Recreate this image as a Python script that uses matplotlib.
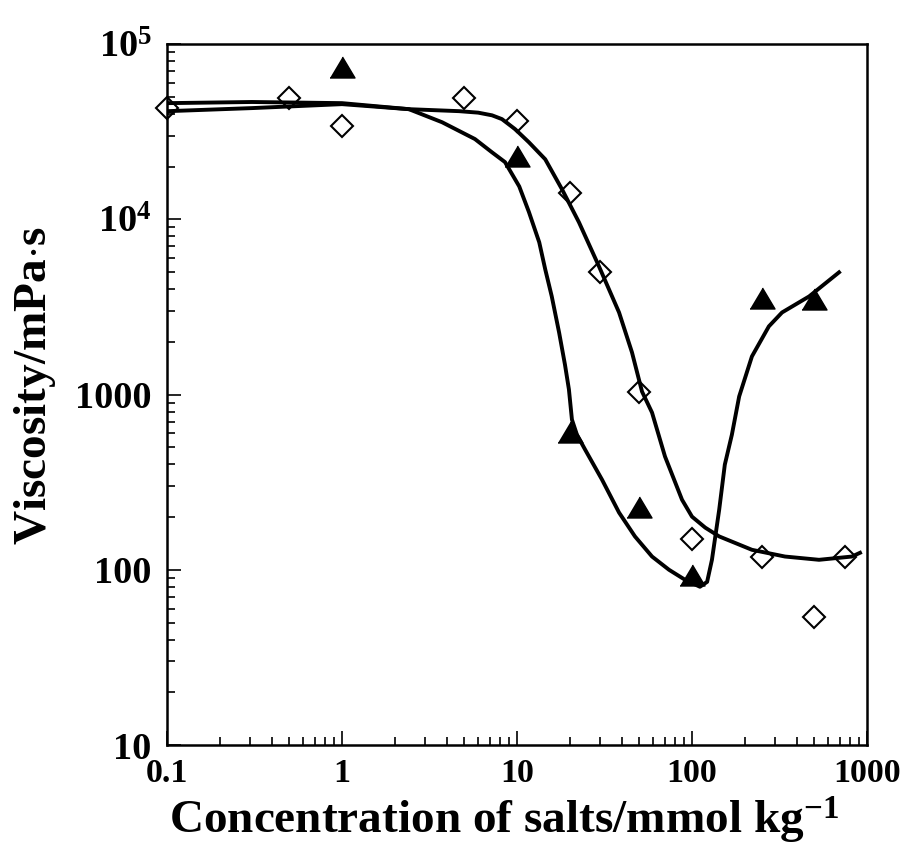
import matplotlib
matplotlib.use("Agg")
import matplotlib.pyplot as plt
from matplotlib.ticker import FixedLocator, FixedFormatter, LogLocator, NullFormatter

plt.rcParams['font.family'] = 'Liberation Serif'
plt.rcParams['font.weight'] = 'bold'
plt.rcParams['mathtext.fontset'] = 'custom'
plt.rcParams['mathtext.rm'] = 'Liberation Serif:bold'
plt.rcParams['mathtext.bf'] = 'Liberation Serif:bold'
plt.rcParams['mathtext.it'] = 'Liberation Serif:bold'

# measured points, open diamonds
dia_x = [0.1, 0.5, 1, 5, 10, 20, 30, 50, 100, 250, 500, 750]
dia_y = [43100, 49100, 34000, 49100, 36300, 14100, 4980, 1040, 150, 119, 53.9, 119]

# measured points, filled triangles
tri_x = [1, 10, 20, 50, 100, 250, 500]
tri_y = [74000, 22900, 615, 229, 93.6, 3540, 3490]

# fitted curve through the diamonds
fit1_x = [0.101, 0.306, 1.0, 2.41, 4.67, 6.0, 7.2, 8.2, 9.75, 11.7, 14.5, 18.1,
          22.6, 29.4, 38.3, 45.4, 51.8, 59.1, 70.1, 87.7, 100, 119, 143, 220,
          340, 532, 820, 912]
fit1_y = [41400, 43100, 45400, 42500, 41400, 40600, 39200, 37300, 32700, 27500,
          22000, 14800, 9610, 5390, 2940, 1740, 1040, 789, 443, 251, 201, 174,
          155, 130, 119, 114, 119, 125]

# fitted curve through the triangles
fit2_x = [0.101, 0.306, 1.0, 2.41, 3.73, 5.75, 7.2, 8.54, 10.3, 11.7, 13.4, 14.5,
          15.8, 17.4, 18.8, 19.8, 20.6, 22.0, 24.5, 30.6, 38.3, 47.2, 59.1, 73.9,
          91.2, 111, 122, 130, 143, 154, 169, 186, 220, 275, 327, 467, 692]
fit2_y = [46000, 46700, 46000, 42500, 35800, 28700, 24100, 21200, 15400, 11000,
          7390, 5180, 3630, 2260, 1480, 1070, 720, 590, 485, 327, 212, 155, 119,
          100, 87.7, 80, 85.3, 114, 220, 398, 590, 975, 1650, 2450, 2940, 3630,
          4980]

x_ticks = [0.1, 1, 10, 100, 1000]
x_labels = ['0.1', '1', '10', '100', '1000']
y_ticks = [10, 100, 1000, 1e4, 1e5]
y_labels = ['10', '100', '1000', r'10$^{4}$', r'10$^{5}$']

fig = plt.figure(figsize=(9.09, 8.47), dpi=100)
ax = fig.add_axes([0.1837, 0.1204, 0.7701, 0.8276])

ax.plot(fit1_x, fit1_y, color='black', lw=2.8, solid_joinstyle='round')
ax.plot(fit2_x, fit2_y, color='black', lw=2.8, solid_joinstyle='round')

tri = [(-1, -0.84), (1, -0.84), (0, 0.84)]
ax.plot(tri_x, tri_y, linestyle='none', marker=tri, markersize=18,
        color='black', zorder=4)
ax.plot(dia_x, dia_y, linestyle='none', marker='D', markersize=11.5,
        markerfacecolor='none', markeredgecolor='black', markeredgewidth=1.5,
        zorder=4, clip_on=False)

ax.set_xscale('log')
ax.set_yscale('log')
ax.set_xlim(0.1, 1000)
ax.set_ylim(10, 1e5)

ax.xaxis.set_major_locator(FixedLocator(x_ticks))
ax.xaxis.set_major_formatter(FixedFormatter(x_labels))
ax.yaxis.set_major_locator(FixedLocator(y_ticks))
ax.yaxis.set_major_formatter(FixedFormatter(y_labels))
ax.xaxis.set_minor_locator(LogLocator(base=10, subs=range(2, 10), numticks=20))
ax.yaxis.set_minor_locator(LogLocator(base=10, subs=range(2, 10), numticks=20))
ax.xaxis.set_minor_formatter(NullFormatter())
ax.yaxis.set_minor_formatter(NullFormatter())

ax.tick_params(which='both', direction='in', top=False, right=False, width=1.2)
ax.tick_params(which='major', length=10)
ax.tick_params(which='minor', length=6)
ax.tick_params(axis='x', labelsize=24.5, pad=9)
ax.tick_params(axis='y', labelsize=27.5, pad=11)

for s in ax.spines.values():
    s.set_linewidth(1.8)

fig.text(504 / 909, 1 - 834 / 847, r'Concentration of salts/mmol kg$^{-1}$',
         fontsize=34, fontweight='bold', ha='center', va='baseline')
fig.text(35 / 909, 1 - 386 / 847, r'Viscosity/mPa$\cdot$s', fontsize=34,
         fontweight='bold', rotation=90, ha='center', va='center')

fig.savefig('out.png', dpi=100)
